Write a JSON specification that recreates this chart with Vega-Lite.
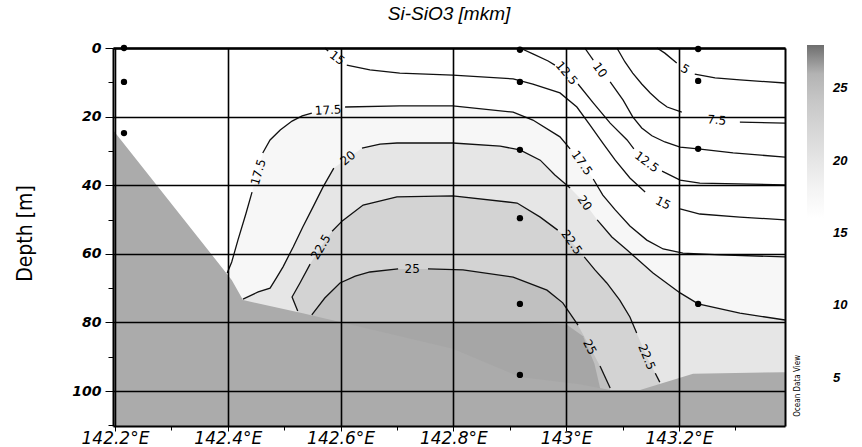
{
"$schema": "https://vega.github.io/schema/vega-lite/v6.json",
"width": 672, "height": 378,
"autosize": {"type": "none"},
"padding": {"left": 113, "top": 48, "right": 77, "bottom": 21},
"background": "white",
"title": {"text": "Si-SiO3 [mkm]", "font": "Liberation Sans", "fontSize": 19, "fontStyle": "italic", "fontWeight": "normal", "color": "black", "anchor": "middle", "frame": "group", "baseline": "alphabetic", "offset": 2},
"config": {"view": {"stroke": null}},
"datasets": {
"bands": [
{"level":17.5,"i":1,"lon":142.399,"depth":65.6},{"level":17.5,"i":2,"lon":142.407,"depth":62.4},{"level":17.5,"i":3,"lon":142.418,"depth":56.0},{"level":17.5,"i":4,"lon":142.432,"depth":48.4},{"level":17.5,"i":5,"lon":142.443,"depth":42.0},{"level":17.5,"i":6,"lon":142.454,"depth":36.2},{"level":17.5,"i":7,"lon":142.462,"depth":30.6},{"level":17.5,"i":8,"lon":142.475,"depth":26.8},{"level":17.5,"i":9,"lon":142.493,"depth":23.9},{"level":17.5,"i":10,"lon":142.514,"depth":21.3},{"level":17.5,"i":11,"lon":142.532,"depth":19.8},{"level":17.5,"i":12,"lon":142.549,"depth":19.0},{"level":17.5,"i":13,"lon":142.578,"depth":18.1},{"level":17.5,"i":14,"lon":142.608,"depth":17.2},{"level":17.5,"i":15,"lon":142.705,"depth":16.9},{"level":17.5,"i":16,"lon":142.799,"depth":16.9},{"level":17.5,"i":17,"lon":142.906,"depth":18.7},{"level":17.5,"i":18,"lon":142.941,"depth":21.0},{"level":17.5,"i":19,"lon":142.989,"depth":25.9},{"level":17.5,"i":20,"lon":143.007,"depth":29.4},{"level":17.5,"i":21,"lon":143.028,"depth":33.5},{"level":17.5,"i":22,"lon":143.048,"depth":38.2},{"level":17.5,"i":23,"lon":143.065,"depth":42.9},{"level":17.5,"i":24,"lon":143.087,"depth":47.2},{"level":17.5,"i":25,"lon":143.113,"depth":51.9},{"level":17.5,"i":26,"lon":143.143,"depth":56.0},{"level":17.5,"i":27,"lon":143.172,"depth":58.6},{"level":17.5,"i":28,"lon":143.207,"depth":59.8},{"level":17.5,"i":29,"lon":143.273,"depth":60.3},{"level":17.5,"i":30,"lon":143.388,"depth":60.9},{"level":17.5,"i":31,"lon":143.388,"depth":110.2},{"level":17.5,"i":32,"lon":142.1965,"depth":110.2},
{"level":20,"i":1,"lon":142.427,"depth":73.2},{"level":20,"i":2,"lon":142.454,"depth":71.1},{"level":20,"i":3,"lon":142.475,"depth":70.0},{"level":20,"i":4,"lon":142.486,"depth":67.1},{"level":20,"i":5,"lon":142.498,"depth":63.8},{"level":20,"i":6,"lon":142.516,"depth":58.0},{"level":20,"i":7,"lon":142.533,"depth":52.2},{"level":20,"i":8,"lon":142.551,"depth":46.4},{"level":20,"i":9,"lon":142.569,"depth":40.5},{"level":20,"i":10,"lon":142.588,"depth":35.0},{"level":20,"i":11,"lon":142.613,"depth":32.1},{"level":20,"i":12,"lon":142.638,"depth":29.2},{"level":20,"i":13,"lon":142.670,"depth":28.0},{"level":20,"i":14,"lon":142.700,"depth":27.7},{"level":20,"i":15,"lon":142.799,"depth":27.7},{"level":20,"i":16,"lon":142.883,"depth":28.6},{"level":20,"i":17,"lon":142.918,"depth":29.7},{"level":20,"i":18,"lon":142.954,"depth":32.7},{"level":20,"i":19,"lon":142.980,"depth":37.0},{"level":20,"i":20,"lon":143.007,"depth":40.8},{"level":20,"i":21,"lon":143.033,"depth":45.2},{"level":20,"i":22,"lon":143.055,"depth":50.1},{"level":20,"i":23,"lon":143.081,"depth":55.1},{"level":20,"i":24,"lon":143.108,"depth":58.9},{"level":20,"i":25,"lon":143.154,"depth":65.6},{"level":20,"i":26,"lon":143.202,"depth":71.4},{"level":20,"i":27,"lon":143.234,"depth":74.6},{"level":20,"i":28,"lon":143.308,"depth":77.3},{"level":20,"i":29,"lon":143.388,"depth":79.3},{"level":20,"i":30,"lon":143.388,"depth":110.2},{"level":20,"i":31,"lon":142.427,"depth":110.2},
{"level":22.5,"i":1,"lon":142.524,"depth":76.7},{"level":22.5,"i":2,"lon":142.514,"depth":72.6},{"level":22.5,"i":3,"lon":142.528,"depth":68.5},{"level":22.5,"i":4,"lon":142.546,"depth":63.0},{"level":22.5,"i":5,"lon":142.565,"depth":58.0},{"level":22.5,"i":6,"lon":142.585,"depth":53.4},{"level":22.5,"i":7,"lon":142.603,"depth":50.4},{"level":22.5,"i":8,"lon":142.640,"depth":45.8},{"level":22.5,"i":9,"lon":142.700,"depth":43.4},{"level":22.5,"i":10,"lon":142.799,"depth":43.1},{"level":22.5,"i":11,"lon":142.913,"depth":45.2},{"level":22.5,"i":12,"lon":142.954,"depth":49.3},{"level":22.5,"i":13,"lon":142.985,"depth":53.1},{"level":22.5,"i":14,"lon":143.010,"depth":56.6},{"level":22.5,"i":15,"lon":143.032,"depth":60.9},{"level":22.5,"i":16,"lon":143.051,"depth":64.7},{"level":22.5,"i":17,"lon":143.072,"depth":68.5},{"level":22.5,"i":18,"lon":143.095,"depth":73.5},{"level":22.5,"i":19,"lon":143.113,"depth":78.4},{"level":22.5,"i":20,"lon":143.125,"depth":83.1},{"level":22.5,"i":21,"lon":143.143,"depth":90.1},{"level":22.5,"i":22,"lon":143.158,"depth":94.8},{"level":22.5,"i":23,"lon":143.166,"depth":97.4},{"level":22.5,"i":24,"lon":143.166,"depth":110.2},{"level":22.5,"i":25,"lon":142.524,"depth":110.2},
{"level":25,"i":1,"lon":142.549,"depth":77.8},{"level":25,"i":2,"lon":142.572,"depth":72.9},{"level":25,"i":3,"lon":142.599,"depth":68.5},{"level":25,"i":4,"lon":142.626,"depth":66.5},{"level":25,"i":5,"lon":142.652,"depth":65.3},{"level":25,"i":6,"lon":142.702,"depth":64.4},{"level":25,"i":7,"lon":142.727,"depth":64.4},{"level":25,"i":8,"lon":142.755,"depth":64.4},{"level":25,"i":9,"lon":142.817,"depth":64.7},{"level":25,"i":10,"lon":142.906,"depth":66.8},{"level":25,"i":11,"lon":142.966,"depth":70.6},{"level":25,"i":12,"lon":142.994,"depth":74.3},{"level":25,"i":13,"lon":143.021,"depth":80.8},{"level":25,"i":14,"lon":143.042,"depth":87.2},{"level":25,"i":15,"lon":143.060,"depth":92.7},{"level":25,"i":16,"lon":143.078,"depth":99.1},{"level":25,"i":17,"lon":143.078,"depth":110.2},{"level":25,"i":18,"lon":142.549,"depth":110.2},
{"level":27,"i":1,"lon":142.592,"depth":80.0},{"level":27,"i":2,"lon":142.820,"depth":79.8},{"level":27,"i":3,"lon":143.000,"depth":80.5},{"level":27,"i":4,"lon":143.030,"depth":84.0},{"level":27,"i":5,"lon":143.050,"depth":92.0},{"level":27,"i":6,"lon":143.060,"depth":99.0},{"level":27,"i":7,"lon":143.060,"depth":110.2},{"level":27,"i":8,"lon":142.592,"depth":110.2}
],
"bathy": [
{"i":1,"lon":142.1965,"depth":23.9},{"i":2,"lon":142.407,"depth":67.6},{"i":3,"lon":142.427,"depth":73.5},{"i":4,"lon":142.533,"depth":77.3},{"i":5,"lon":142.599,"depth":79.9},{"i":6,"lon":142.799,"depth":87.7},{"i":7,"lon":142.918,"depth":95.9},{"i":8,"lon":143.024,"depth":98.0},{"i":9,"lon":143.078,"depth":99.7},{"i":10,"lon":143.131,"depth":99.7},{"i":11,"lon":143.225,"depth":95.0},{"i":12,"lon":143.388,"depth":94.5},{"i":13,"lon":143.388,"depth":110.2},{"i":14,"lon":142.1965,"depth":110.2}
],
"contours": [
{"seg":"5a","i":1,"lon":143.161,"depth":0},{"seg":"5a","i":2,"lon":143.175,"depth":1.5},{"seg":"5a","i":3,"lon":143.196,"depth":4.4},
{"seg":"5b","i":1,"lon":143.228,"depth":7.6},{"seg":"5b","i":2,"lon":143.264,"depth":8.7},{"seg":"5b","i":3,"lon":143.308,"depth":9.3},{"seg":"5b","i":4,"lon":143.388,"depth":10.2},
{"seg":"7a","i":1,"lon":143.090,"depth":0},{"seg":"7a","i":2,"lon":143.104,"depth":4.0},{"seg":"7a","i":3,"lon":143.118,"depth":7.3},{"seg":"7a","i":4,"lon":143.134,"depth":10.5},{"seg":"7a","i":5,"lon":143.149,"depth":13.1},{"seg":"7a","i":6,"lon":143.165,"depth":15.5},{"seg":"7a","i":7,"lon":143.179,"depth":17.2},{"seg":"7a","i":8,"lon":143.205,"depth":18.7},
{"seg":"7b","i":1,"lon":143.308,"depth":21.6},{"seg":"7b","i":2,"lon":143.388,"depth":21.9},
{"seg":"10a","i":1,"lon":143.033,"depth":0},{"seg":"10a","i":2,"lon":143.048,"depth":3.5},
{"seg":"10b","i":1,"lon":143.078,"depth":9.9},{"seg":"10b","i":2,"lon":143.101,"depth":15.2},{"seg":"10b","i":3,"lon":143.118,"depth":20.1},{"seg":"10b","i":4,"lon":143.134,"depth":23.3},{"seg":"10b","i":5,"lon":143.152,"depth":25.6},{"seg":"10b","i":6,"lon":143.175,"depth":27.4},{"seg":"10b","i":7,"lon":143.202,"depth":28.9},{"seg":"10b","i":8,"lon":143.234,"depth":29.4},{"seg":"10b","i":9,"lon":143.296,"depth":30.6},{"seg":"10b","i":10,"lon":143.388,"depth":31.8},
{"seg":"12a","i":1,"lon":142.918,"depth":0},{"seg":"12a","i":2,"lon":142.941,"depth":1.7},{"seg":"12a","i":3,"lon":142.968,"depth":3.8},{"seg":"12a","i":4,"lon":142.980,"depth":5.0},
{"seg":"12b","i":1,"lon":143.021,"depth":10.5},{"seg":"12b","i":2,"lon":143.048,"depth":16.0},{"seg":"12b","i":3,"lon":143.078,"depth":21.9},{"seg":"12b","i":4,"lon":143.108,"depth":26.8},{"seg":"12b","i":5,"lon":143.120,"depth":29.4},
{"seg":"12c","i":1,"lon":143.170,"depth":35.9},{"seg":"12c","i":2,"lon":143.202,"depth":38.5},{"seg":"12c","i":3,"lon":143.237,"depth":39.4},{"seg":"12c","i":4,"lon":143.388,"depth":39.9},
{"seg":"15a","i":1,"lon":142.572,"depth":0},{"seg":"15a","i":2,"lon":142.578,"depth":0.9},
{"seg":"15b","i":1,"lon":142.611,"depth":5.0},{"seg":"15b","i":2,"lon":142.652,"depth":6.4},{"seg":"15b","i":3,"lon":142.705,"depth":7.3},{"seg":"15b","i":4,"lon":142.799,"depth":7.9},{"seg":"15b","i":5,"lon":142.906,"depth":9.0},{"seg":"15b","i":6,"lon":142.941,"depth":10.5},{"seg":"15b","i":7,"lon":142.989,"depth":13.1},{"seg":"15b","i":8,"lon":143.019,"depth":17.2},{"seg":"15b","i":9,"lon":143.042,"depth":22.4},{"seg":"15b","i":10,"lon":143.065,"depth":27.7},{"seg":"15b","i":11,"lon":143.087,"depth":32.7},{"seg":"15b","i":12,"lon":143.113,"depth":37.9},{"seg":"15b","i":13,"lon":143.140,"depth":42.0},
{"seg":"15c","i":1,"lon":143.202,"depth":46.9},{"seg":"15c","i":2,"lon":143.237,"depth":48.4},{"seg":"15c","i":3,"lon":143.308,"depth":49.3},{"seg":"15c","i":4,"lon":143.388,"depth":50.1},
{"seg":"17a","i":1,"lon":142.399,"depth":65.6},{"seg":"17a","i":2,"lon":142.407,"depth":62.4},{"seg":"17a","i":3,"lon":142.418,"depth":56.0},{"seg":"17a","i":4,"lon":142.432,"depth":48.4},{"seg":"17a","i":5,"lon":142.443,"depth":42.0},
{"seg":"17b","i":1,"lon":142.462,"depth":30.6},{"seg":"17b","i":2,"lon":142.475,"depth":26.8},{"seg":"17b","i":3,"lon":142.493,"depth":23.9},{"seg":"17b","i":4,"lon":142.514,"depth":21.3},{"seg":"17b","i":5,"lon":142.532,"depth":19.8},{"seg":"17b","i":6,"lon":142.549,"depth":19.0},
{"seg":"17c","i":1,"lon":142.608,"depth":17.2},{"seg":"17c","i":2,"lon":142.705,"depth":16.9},{"seg":"17c","i":3,"lon":142.799,"depth":16.9},{"seg":"17c","i":4,"lon":142.906,"depth":18.7},{"seg":"17c","i":5,"lon":142.941,"depth":21.0},{"seg":"17c","i":6,"lon":142.989,"depth":25.9},{"seg":"17c","i":7,"lon":143.007,"depth":29.4},
{"seg":"17d","i":1,"lon":143.048,"depth":38.2},{"seg":"17d","i":2,"lon":143.065,"depth":42.9},{"seg":"17d","i":3,"lon":143.087,"depth":47.2},{"seg":"17d","i":4,"lon":143.113,"depth":51.9},{"seg":"17d","i":5,"lon":143.143,"depth":56.0},{"seg":"17d","i":6,"lon":143.172,"depth":58.6},{"seg":"17d","i":7,"lon":143.207,"depth":59.8},{"seg":"17d","i":8,"lon":143.273,"depth":60.3},{"seg":"17d","i":9,"lon":143.388,"depth":60.9},
{"seg":"20a","i":1,"lon":142.427,"depth":73.2},{"seg":"20a","i":2,"lon":142.454,"depth":71.1},{"seg":"20a","i":3,"lon":142.475,"depth":70.0},{"seg":"20a","i":4,"lon":142.486,"depth":67.1},{"seg":"20a","i":5,"lon":142.498,"depth":63.8},{"seg":"20a","i":6,"lon":142.516,"depth":58.0},{"seg":"20a","i":7,"lon":142.533,"depth":52.2},{"seg":"20a","i":8,"lon":142.551,"depth":46.4},{"seg":"20a","i":9,"lon":142.569,"depth":40.5},{"seg":"20a","i":10,"lon":142.588,"depth":35.0},
{"seg":"20b","i":1,"lon":142.638,"depth":29.2},{"seg":"20b","i":2,"lon":142.670,"depth":28.0},{"seg":"20b","i":3,"lon":142.700,"depth":27.7},{"seg":"20b","i":4,"lon":142.799,"depth":27.7},{"seg":"20b","i":5,"lon":142.883,"depth":28.6},{"seg":"20b","i":6,"lon":142.918,"depth":29.7},{"seg":"20b","i":7,"lon":142.954,"depth":32.7},{"seg":"20b","i":8,"lon":142.980,"depth":37.0},{"seg":"20b","i":9,"lon":143.007,"depth":40.8},
{"seg":"20c","i":1,"lon":143.055,"depth":50.1},{"seg":"20c","i":2,"lon":143.081,"depth":55.1},{"seg":"20c","i":3,"lon":143.108,"depth":58.9},{"seg":"20c","i":4,"lon":143.154,"depth":65.6},{"seg":"20c","i":5,"lon":143.202,"depth":71.4},{"seg":"20c","i":6,"lon":143.234,"depth":74.6},{"seg":"20c","i":7,"lon":143.308,"depth":77.3},{"seg":"20c","i":8,"lon":143.388,"depth":79.3},
{"seg":"22a","i":1,"lon":142.524,"depth":76.7},{"seg":"22a","i":2,"lon":142.514,"depth":72.6},{"seg":"22a","i":3,"lon":142.528,"depth":68.5},{"seg":"22a","i":4,"lon":142.546,"depth":63.0},
{"seg":"22b","i":1,"lon":142.585,"depth":53.4},{"seg":"22b","i":2,"lon":142.603,"depth":50.4},{"seg":"22b","i":3,"lon":142.640,"depth":45.8},{"seg":"22b","i":4,"lon":142.700,"depth":43.4},{"seg":"22b","i":5,"lon":142.799,"depth":43.1},{"seg":"22b","i":6,"lon":142.913,"depth":45.2},{"seg":"22b","i":7,"lon":142.954,"depth":49.3},{"seg":"22b","i":8,"lon":142.985,"depth":53.1},
{"seg":"22c","i":1,"lon":143.032,"depth":60.9},{"seg":"22c","i":2,"lon":143.051,"depth":64.7},{"seg":"22c","i":3,"lon":143.072,"depth":68.5},{"seg":"22c","i":4,"lon":143.095,"depth":73.5},{"seg":"22c","i":5,"lon":143.113,"depth":78.4},{"seg":"22c","i":6,"lon":143.125,"depth":83.1},
{"seg":"22d","i":1,"lon":143.158,"depth":94.8},{"seg":"22d","i":2,"lon":143.166,"depth":97.4},
{"seg":"25a","i":1,"lon":142.549,"depth":77.8},{"seg":"25a","i":2,"lon":142.572,"depth":72.9},{"seg":"25a","i":3,"lon":142.599,"depth":68.5},{"seg":"25a","i":4,"lon":142.626,"depth":66.5},{"seg":"25a","i":5,"lon":142.652,"depth":65.3},{"seg":"25a","i":6,"lon":142.702,"depth":64.4},
{"seg":"25b","i":1,"lon":142.755,"depth":64.4},{"seg":"25b","i":2,"lon":142.817,"depth":64.7},{"seg":"25b","i":3,"lon":142.906,"depth":66.8},{"seg":"25b","i":4,"lon":142.966,"depth":70.6},{"seg":"25b","i":5,"lon":142.994,"depth":74.3},{"seg":"25b","i":6,"lon":143.021,"depth":80.8},
{"seg":"25c","i":1,"lon":143.060,"depth":92.7},{"seg":"25c","i":2,"lon":143.078,"depth":99.1}
],
"labels": [
{"txt":"15","lon":142.594,"depth":2.9,"rot":38},
{"txt":"12.5","lon":143.001,"depth":7.3,"rot":50},
{"txt":"10","lon":143.060,"depth":6.4,"rot":55},
{"txt":"5","lon":143.211,"depth":6.1,"rot":31},
{"txt":"7.5","lon":143.267,"depth":21.0,"rot":5},
{"txt":"17.5","lon":143.028,"depth":33.5,"rot":55},
{"txt":"12.5","lon":143.143,"depth":33.2,"rot":36},
{"txt":"20","lon":143.033,"depth":45.2,"rot":55},
{"txt":"15","lon":143.172,"depth":45.2,"rot":27},
{"txt":"22.5","lon":143.010,"depth":56.6,"rot":55},
{"txt":"22.5","lon":143.143,"depth":90.1,"rot":68},
{"txt":"25","lon":143.042,"depth":87.2,"rot":62},
{"txt":"25","lon":142.727,"depth":64.4,"rot":0},
{"txt":"20","lon":142.613,"depth":32.1,"rot":-40},
{"txt":"22.5","lon":142.565,"depth":58.0,"rot":-60},
{"txt":"17.5","lon":142.454,"depth":36.2,"rot":-74},
{"txt":"17.5","lon":142.578,"depth":18.1,"rot":-3}
],
"stations": [
{"lon":142.216,"depth":0},{"lon":142.216,"depth":9.9},{"lon":142.216,"depth":24.8},
{"lon":142.918,"depth":0.5},{"lon":142.918,"depth":9.9},{"lon":142.918,"depth":29.7},{"lon":142.918,"depth":49.6},{"lon":142.918,"depth":74.6},{"lon":142.918,"depth":95.3},
{"lon":143.234,"depth":0.3},{"lon":143.234,"depth":9.6},{"lon":143.234,"depth":29.4},{"lon":143.234,"depth":74.6}
],
"credit": [{"lon":143.411,"depth":98.5,"t":"Ocean Data View"}]
},
"layer": [
{
"encoding": {
"x": {"field": "lon", "type": "quantitative", "scale": {"domain": [142.1965, 143.388], "nice": false, "zero": false},
 "axis": {"values": [142.2,142.3,142.4,142.5,142.6,142.7,142.8,142.9,143,143.1,143.2,143.3],
  "labelExpr": "round(datum.value*10)%2==0 ? format(datum.value,'~g')+'°E' : ''",
  "labelFont": "DejaVu Sans", "labelFontSize": 17, "labelFontStyle": "italic", "labelColor": "black", "labelPadding": -1, "labelFlush": false, "labelOverlap": false,
  "grid": true, "gridColor": "black", "gridWidth": 1.6, "gridOpacity": {"condition": {"test": "round(datum.value*10)%2==0", "value": 1}, "value": 0},
  "ticks": true, "tickColor": "black", "tickWidth": 1, "tickSize": {"condition": {"test": "round(datum.value*10)%2==0", "value": 5}, "value": 4},
  "domain": true, "domainColor": "black", "domainWidth": 2, "title": null, "zindex": 1}},
"y": {"field": "depth", "type": "quantitative", "scale": {"domain": [0, 110.2], "nice": false, "zero": false, "reverse": true},
 "axis": {"values": [0,10,20,30,40,50,60,70,80,90,100,110],
  "labelExpr": "datum.value%20==0 ? datum.label : ''",
  "labelFont": "DejaVu Sans", "labelFontSize": 14, "labelFontStyle": "italic", "labelFontWeight": "bold", "labelColor": "black", "labelPadding": 4, "labelOverlap": false,
  "grid": true, "gridColor": "black", "gridWidth": 1.6, "gridOpacity": {"condition": {"test": "datum.value%20==0", "value": 1}, "value": 0},
  "ticks": true, "tickColor": "black", "tickWidth": 1, "tickSize": {"condition": {"test": "datum.value%20==0", "value": 8}, "value": 5},
  "domain": true, "domainColor": "black", "domainWidth": 2,
  "title": "Depth [m]", "titleFont": "Liberation Sans Narrow, DejaVu Sans Condensed, sans-serif", "titleFontSize": 21, "titleFontWeight": "normal", "titleColor": "black",
  "titleAngle": 270, "titleX": -88, "titleY": 185, "titleAlign": "center", "titleBaseline": "middle", "zindex": 1}}
},
"layer": [
{"data": {"name": "bands"}, "transform": [{"filter": "datum.level == 17.5"}],
 "mark": {"type": "line", "filled": true, "strokeWidth": 0},
 "encoding": {"order": {"field": "i", "type": "quantitative"},
  "color": {"field": "level", "type": "quantitative",
   "scale": {"domain": [2,17,17.5,20,22.5,25,27,28], "range": ["#ffffff","#ffffff","#f7f7f7","#e6e6e6","#d3d3d3","#c0c0c0","#a6a6a6","#6e6e6e"], "interpolate": "rgb"},
   "legend": {"orient": "none", "legendX": 694, "legendY": -3, "direction": "vertical", "gradientLength": 376, "gradientThickness": 17, "gradientStrokeWidth": 0,
    "values": [5,10,15,20,25], "title": null, "labelFont": "Liberation Sans", "labelFontSize": 13, "labelFontWeight": "bold", "labelFontStyle": "italic", "labelColor": "black", "labelOffset": 9, "tickCount": 5}}}},
{"data": {"name": "bands"}, "transform": [{"filter": "datum.level == 20"}],
 "mark": {"type": "line", "filled": true, "strokeWidth": 0},
 "encoding": {"order": {"field": "i", "type": "quantitative"}, "color": {"field": "level", "type": "quantitative"}}},
{"data": {"name": "bands"}, "transform": [{"filter": "datum.level == 22.5"}],
 "mark": {"type": "line", "filled": true, "strokeWidth": 0},
 "encoding": {"order": {"field": "i", "type": "quantitative"}, "color": {"field": "level", "type": "quantitative"}}},
{"data": {"name": "bands"}, "transform": [{"filter": "datum.level == 25"}],
 "mark": {"type": "line", "filled": true, "strokeWidth": 0},
 "encoding": {"order": {"field": "i", "type": "quantitative"}, "color": {"field": "level", "type": "quantitative"}}},
{"data": {"name": "bands"}, "transform": [{"filter": "datum.level == 27"}],
 "mark": {"type": "line", "filled": true, "strokeWidth": 0},
 "encoding": {"order": {"field": "i", "type": "quantitative"}, "color": {"field": "level", "type": "quantitative"}}},
{"data": {"name": "bathy"},
 "mark": {"type": "line", "filled": true, "color": "#ababab", "strokeWidth": 0},
 "encoding": {"order": {"field": "i", "type": "quantitative"}}},
{"data": {"name": "contours"},
 "mark": {"type": "line", "color": "#111111", "strokeWidth": 1.3},
 "encoding": {"detail": {"field": "seg", "type": "nominal"}, "order": {"field": "i", "type": "quantitative"}}},
{"data": {"name": "labels"},
 "mark": {"type": "text", "font": "DejaVu Sans", "fontSize": 12, "color": "black", "align": "center", "baseline": "middle"},
 "encoding": {"text": {"field": "txt", "type": "nominal"}, "angle": {"field": "rot", "type": "quantitative", "scale": null}}},
{"data": {"name": "credit"},
 "mark": {"type": "text", "font": "Liberation Sans Narrow, DejaVu Sans Condensed, sans-serif", "fontSize": 8, "color": "black", "angle": 270, "align": "center", "baseline": "middle"},
 "encoding": {"text": {"field": "t", "type": "nominal"}}}
]
},
{"data": {"name": "stations"},
 "mark": {"type": "point", "filled": true, "color": "black", "size": 40, "opacity": 1},
 "encoding": {
  "x": {"field": "lon", "type": "quantitative", "scale": {"domain": [142.1965, 143.388], "nice": false, "zero": false},
   "axis": {"orient": "top", "labels": false, "ticks": false, "grid": false, "domain": true, "domainColor": "black", "domainWidth": 2.5, "title": null, "zindex": 1}},
  "y": {"field": "depth", "type": "quantitative", "scale": {"domain": [0, 110.2], "nice": false, "zero": false, "reverse": true},
   "axis": {"orient": "right", "labels": false, "ticks": false, "grid": false, "domain": true, "domainColor": "black", "domainWidth": 2, "title": null, "zindex": 1}}}}
],
"resolve": {"axis": {"x": "independent", "y": "independent"}}
}
